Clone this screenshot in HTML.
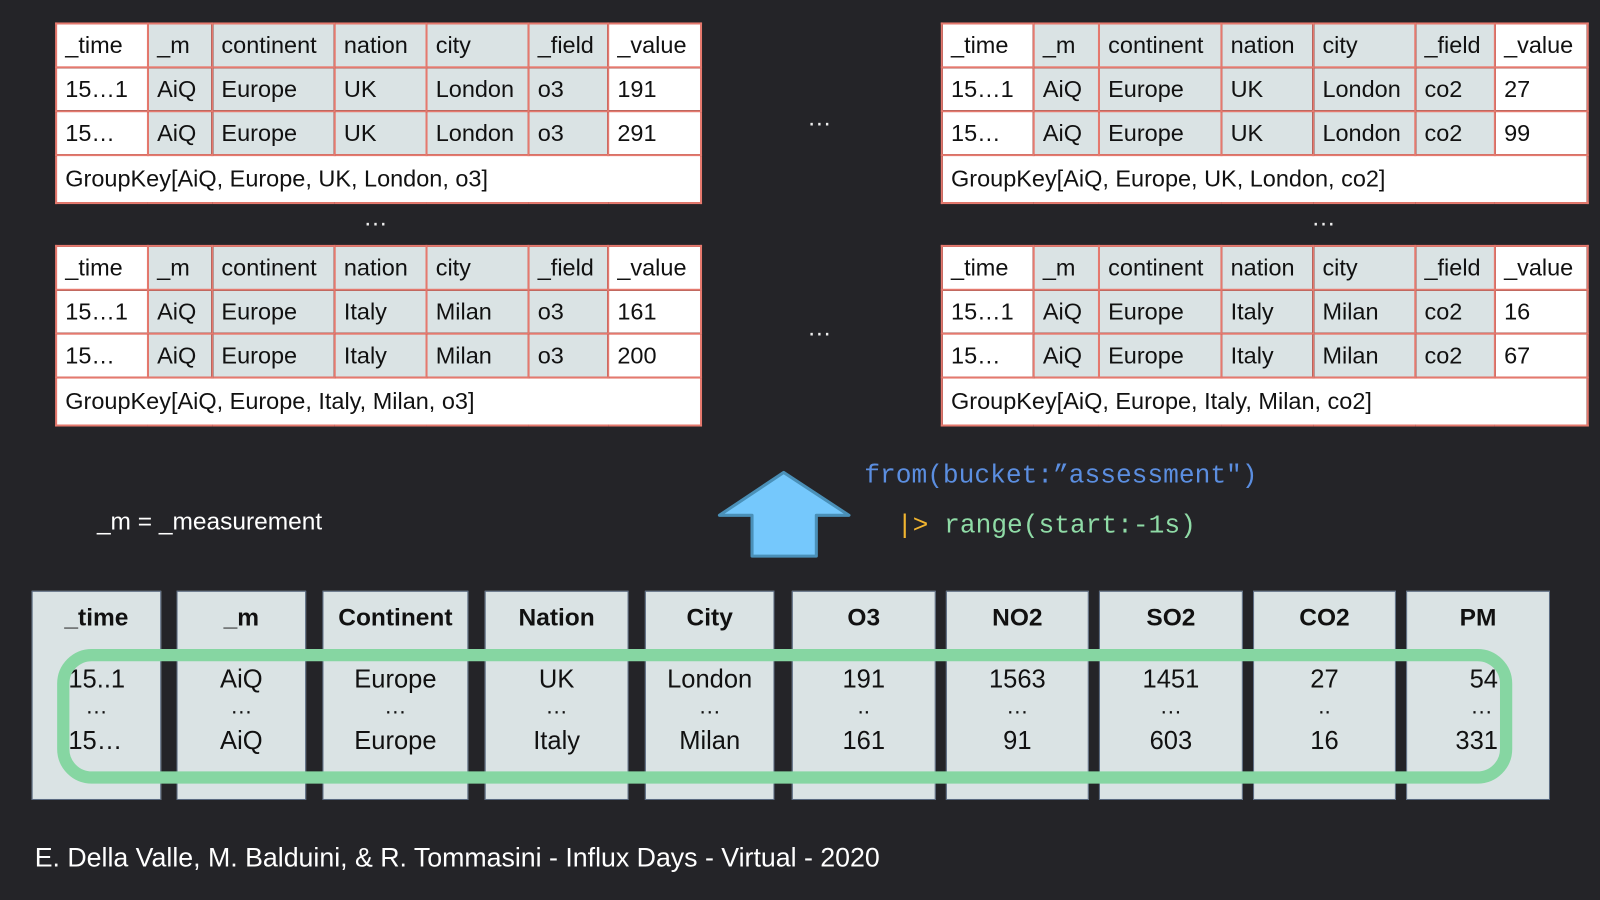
<!DOCTYPE html>
<html><head><meta charset="utf-8"><style>
html,body{margin:0;padding:0;background:#242428;overflow:hidden}
#w{position:relative;width:1568px;height:882px;transform:scale(1.0204);transform-origin:0 0;font-family:"Liberation Sans",sans-serif}
table{position:absolute;border-collapse:collapse;table-layout:fixed}
td{border:2px solid #e5796e;height:41px;padding:0 0 0 8px;font-size:23px;color:#111;background:#dae3e4;white-space:nowrap;overflow:hidden}
td.w{background:#fff}
td.g{height:45px}
.dots{position:absolute;color:#eee;font-size:24px}
.col{position:absolute;top:579px;height:205px;background:#dae3e4;border:1px solid #5a6a80;box-sizing:border-box;text-align:center;color:#111}
.col b{display:block;margin-top:12px;font-size:24px}
.col div{font-size:25px;line-height:30px}
.col .v1{margin-top:31px}
.col .d{line-height:22px;height:30px;font-size:22px}
</style></head><body><div id="w">
<table style="left:54px;top:22px;width:632px">
<colgroup><col style="width:90px"><col style="width:63px"><col style="width:120px"><col style="width:90px"><col style="width:100px"><col style="width:78px"><col style="width:91px"></colgroup>
<tr><td class="w">_time</td><td>_m</td><td>continent</td><td>nation</td><td>city</td><td>_field</td><td class="w">_value</td></tr>
<tr><td class="w">15…1</td><td>AiQ</td><td>Europe</td><td>UK</td><td>London</td><td>o3</td><td class="w">191</td></tr>
<tr><td class="w">15…</td><td>AiQ</td><td>Europe</td><td>UK</td><td>London</td><td>o3</td><td class="w">291</td></tr>
<tr><td class="w g" colspan="7">GroupKey[AiQ, Europe, UK, London, o3]</td></tr>
</table>
<table style="left:922px;top:22px;width:633px">
<colgroup><col style="width:90px"><col style="width:64px"><col style="width:120px"><col style="width:90px"><col style="width:100px"><col style="width:78px"><col style="width:91px"></colgroup>
<tr><td class="w">_time</td><td>_m</td><td>continent</td><td>nation</td><td>city</td><td>_field</td><td class="w">_value</td></tr>
<tr><td class="w">15…1</td><td>AiQ</td><td>Europe</td><td>UK</td><td>London</td><td>co2</td><td class="w">27</td></tr>
<tr><td class="w">15…</td><td>AiQ</td><td>Europe</td><td>UK</td><td>London</td><td>co2</td><td class="w">99</td></tr>
<tr><td class="w g" colspan="7">GroupKey[AiQ, Europe, UK, London, co2]</td></tr>
</table>
<table style="left:54px;top:240px;width:632px">
<colgroup><col style="width:90px"><col style="width:63px"><col style="width:120px"><col style="width:90px"><col style="width:100px"><col style="width:78px"><col style="width:91px"></colgroup>
<tr><td class="w">_time</td><td>_m</td><td>continent</td><td>nation</td><td>city</td><td>_field</td><td class="w">_value</td></tr>
<tr><td class="w">15…1</td><td>AiQ</td><td>Europe</td><td>Italy</td><td>Milan</td><td>o3</td><td class="w">161</td></tr>
<tr><td class="w">15…</td><td>AiQ</td><td>Europe</td><td>Italy</td><td>Milan</td><td>o3</td><td class="w">200</td></tr>
<tr><td class="w g" colspan="7">GroupKey[AiQ, Europe, Italy, Milan, o3]</td></tr>
</table>
<table style="left:922px;top:240px;width:633px">
<colgroup><col style="width:90px"><col style="width:64px"><col style="width:120px"><col style="width:90px"><col style="width:100px"><col style="width:78px"><col style="width:91px"></colgroup>
<tr><td class="w">_time</td><td>_m</td><td>continent</td><td>nation</td><td>city</td><td>_field</td><td class="w">_value</td></tr>
<tr><td class="w">15…1</td><td>AiQ</td><td>Europe</td><td>Italy</td><td>Milan</td><td>co2</td><td class="w">16</td></tr>
<tr><td class="w">15…</td><td>AiQ</td><td>Europe</td><td>Italy</td><td>Milan</td><td>co2</td><td class="w">67</td></tr>
<tr><td class="w g" colspan="7">GroupKey[AiQ, Europe, Italy, Milan, co2]</td></tr>
</table>
<div class="dots" style="left:356px;top:200px">…</div>
<div class="dots" style="left:1285px;top:200px">…</div>
<div class="dots" style="left:791px;top:102px">…</div>
<div class="dots" style="left:791px;top:308px">…</div>
<div style="position:absolute;left:95px;top:498px;color:#fff;font-size:24px">_m = _measurement</div>
<svg style="position:absolute;left:0;top:0" width="1568" height="882">
<polygon points="768,463 832,505 800,505 800,545 737,545 737,505 705,505" fill="#75c8fc" stroke="#4a90b8" stroke-width="3" stroke-linejoin="round"/>
</svg>
<div style="position:absolute;left:847px;top:452px;font-family:'Liberation Mono',monospace;font-size:25.7px;color:#5b8ee0;white-space:pre">from(bucket:”assessment")</div>
<div style="position:absolute;left:879px;top:501px;font-family:'Liberation Mono',monospace;font-size:25.7px;white-space:pre"><span style="color:#f2b530">|&gt;</span> <span style="color:#8fdba6">range(start:-1s)</span></div>
<div class="col" style="left:31px;width:127px"><b>_time</b><div class="v1" style="text-align:left;padding-left:35px">15..1</div><div class="d">…</div><div style="text-align:left;padding-left:35px">15…</div></div>
<div class="col" style="left:173px;width:127px"><b>_m</b><div class="v1">AiQ</div><div class="d">…</div><div>AiQ</div></div>
<div class="col" style="left:316px;width:143px"><b>Continent</b><div class="v1">Europe</div><div class="d">…</div><div>Europe</div></div>
<div class="col" style="left:475px;width:141px"><b>Nation</b><div class="v1">UK</div><div class="d">…</div><div>Italy</div></div>
<div class="col" style="left:632px;width:127px"><b>City</b><div class="v1">London</div><div class="d">…</div><div>Milan</div></div>
<div class="col" style="left:776px;width:141px"><b>O3</b><div class="v1">191</div><div class="d">..</div><div>161</div></div>
<div class="col" style="left:927px;width:140px"><b>NO2</b><div class="v1">1563</div><div class="d">…</div><div>91</div></div>
<div class="col" style="left:1077px;width:141px"><b>SO2</b><div class="v1">1451</div><div class="d">…</div><div>603</div></div>
<div class="col" style="left:1228px;width:140px"><b>CO2</b><div class="v1">27</div><div class="d">..</div><div>16</div></div>
<div class="col" style="left:1378px;width:141px"><b>PM</b><div class="v1" style="text-align:right;padding-right:50px">54</div><div class="d" style="text-align:right;padding-right:55px">…</div><div style="text-align:right;padding-right:50px">331</div></div>
<svg style="position:absolute;left:0;top:0" width="1568" height="882">
<rect x="62" y="642" width="1414" height="120" rx="28" fill="none" stroke="#86d6a2" stroke-width="12"/>
</svg>
<div style="position:absolute;left:34px;top:825px;color:#fff;font-size:26.2px">E. Della Valle, M. Balduini, &amp; R. Tommasini - Influx Days - Virtual - 2020</div>
</div></body></html>
